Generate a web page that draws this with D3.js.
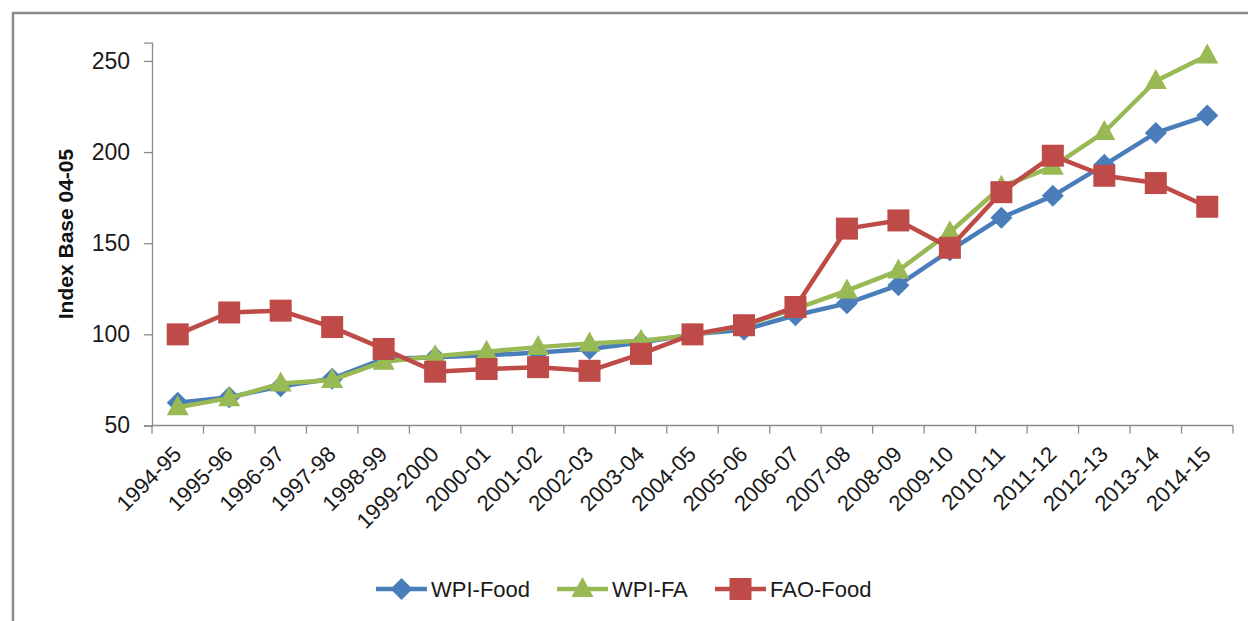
<!DOCTYPE html>
<html>
<head>
<meta charset="utf-8">
<script src="https://cdn.jsdelivr.net/npm/d3@7"></script>
<style>
  html, body { margin: 0; padding: 0; background: #fff; }
  svg { display: block; font-family: 'Liberation Sans', Arial, sans-serif; }
</style>
</head>
<body>
<svg id="chart"></svg>
<script>
const years = ['1994-95', '1995-96', '1996-97', '1997-98', '1998-99', '1999-2000', '2000-01',
    '2001-02', '2002-03', '2003-04', '2004-05', '2005-06', '2006-07', '2007-08', '2008-09',
    '2009-10', '2010-11', '2011-12', '2012-13', '2013-14', '2014-15'];

const wpiFood = [62.5, 65.5, 71.5, 75.7, 86.5, 87.5, 88.5, 90, 92, 95.5, 100,
    102.5, 110.5, 117, 127, 146, 164, 176, 193, 210.5, 220];
const wpiFA = [60, 65, 73, 75, 85, 88, 90.5, 93, 95, 96.5, 99.5,
    105, 114, 124, 135, 156, 181, 192, 211, 239, 253];
const faoFood = [100, 112, 113, 104, 92, 79.5, 81, 82, 80, 89.3, 100,
    105, 115, 158, 162.5, 147.5, 178, 198, 187, 183, 170];

const yTicks = [50, 100, 150, 200, 250];

const series = [
    { name: 'WPI-Food', values: wpiFood, color: '#4A7EBB', marker: 'diamond' },
    { name: 'WPI-FA', values: wpiFA, color: '#98B954', marker: 'triangle' },
    { name: 'FAO-Food', values: faoFood, color: '#BE4B48', marker: 'square' }
];

const width = 1248;
const height = 621;
const plot = { left: 152, right: 1233, top: 42.7, bottom: 425.5 };

const svg = d3.select('#chart')
    .attr('width', width)
    .attr('height', height);

// outer frame (cut off at right and bottom)
svg.append('path')
    .attr('d', `M13,${height + 5} L13,13 L${width + 5},13`)
    .attr('fill', 'none')
    .attr('stroke', '#8c8c8c')
    .attr('stroke-width', 2.5);

const x = d3.scaleBand()
    .domain(years)
    .range([plot.left, plot.right]);

const y = d3.scaleLinear()
    .domain([50, 260])
    .range([plot.bottom, plot.top]);

const axisColor = '#8a8a8a';

// y axis
const yAxis = svg.append('g')
    .attr('transform', `translate(${plot.left},0)`)
    .call(d3.axisLeft(y).tickValues(yTicks).tickSize(8).tickPadding(14));
yAxis.select('.domain').attr('stroke', axisColor).attr('stroke-width', 1.3);
yAxis.selectAll('.tick line').attr('stroke', axisColor).attr('stroke-width', 1.3);
yAxis.selectAll('.tick text')
    .attr('fill', '#1a1a1a')
    .style('font-size', '23px');

// x axis
const xAxis = svg.append('g')
    .attr('transform', `translate(0,${plot.bottom})`)
    .call(d3.axisBottom(x).tickSize(0).tickSizeOuter(0));
xAxis.select('.domain').remove();
xAxis.append('line')
    .attr('x1', plot.left).attr('x2', plot.right)
    .attr('stroke', axisColor).attr('stroke-width', 1.3);
xAxis.selectAll('.bound')
    .data(d3.range(years.length + 1))
    .enter()
    .append('line')
        .attr('class', 'bound')
        .attr('x1', (d) => plot.left + d * x.bandwidth())
        .attr('x2', (d) => plot.left + d * x.bandwidth())
        .attr('y1', 0)
        .attr('y2', 8)
        .attr('stroke', axisColor)
        .attr('stroke-width', 1.3);
xAxis.selectAll('.tick text')
    .attr('fill', '#1a1a1a')
    .style('font-size', '22px')
    .attr('text-anchor', 'end')
    .attr('y', 0)
    .attr('dy', 0)
    .attr('transform', 'translate(5,30) rotate(-45)');

// y axis title
svg.append('text')
    .attr('transform', 'translate(73,234) rotate(-90)')
    .attr('text-anchor', 'middle')
    .style('font-size', '21px')
    .style('font-weight', 'bold')
    .attr('fill', '#111')
    .text('Index Base 04-05');

const markerPath = {
    diamond: 'M0,-11 L11,0 L0,11 L-11,0 Z',
    triangle: 'M0,-12 L11,8 L-11,8 Z',
    square: 'M-11,-11 L11,-11 L11,11 L-11,11 Z'
};

const line = d3.line()
    .x((d, i) => x(years[i]) + x.bandwidth() / 2)
    .y((d) => y(d));

series.forEach((s) => {
    const g = svg.append('g').attr('class', 'series');
    g.append('path')
        .datum(s.values)
        .attr('d', line)
        .attr('fill', 'none')
        .attr('stroke', s.color)
        .attr('stroke-width', 4.5)
        .attr('stroke-linejoin', 'round');
    g.selectAll('path.marker')
        .data(s.values)
        .enter()
        .append('path')
            .attr('class', 'marker')
            .attr('d', markerPath[s.marker])
            .attr('transform', (d, i) => `translate(${x(years[i]) + x.bandwidth() / 2},${y(d)})`)
            .attr('fill', s.color);
});

// legend
const legendItems = [
    { s: series[0], x0: 376 },
    { s: series[1], x0: 557 },
    { s: series[2], x0: 715 }
];
const legendY = 589;
const legend = svg.append('g').attr('class', 'legend');
legendItems.forEach((item) => {
    const g = legend.append('g').attr('transform', `translate(${item.x0},${legendY})`);
    g.append('line')
        .attr('x1', 0).attr('x2', 51)
        .attr('stroke', item.s.color)
        .attr('stroke-width', 4.5);
    g.append('path')
        .attr('d', markerPath[item.s.marker])
        .attr('transform', 'translate(25.5,0)')
        .attr('fill', item.s.color);
    g.append('text')
        .attr('x', 55)
        .attr('dy', '0.36em')
        .style('font-size', '22px')
        .attr('fill', '#1a1a1a')
        .text(item.s.name);
});
</script>
</body>
</html>
